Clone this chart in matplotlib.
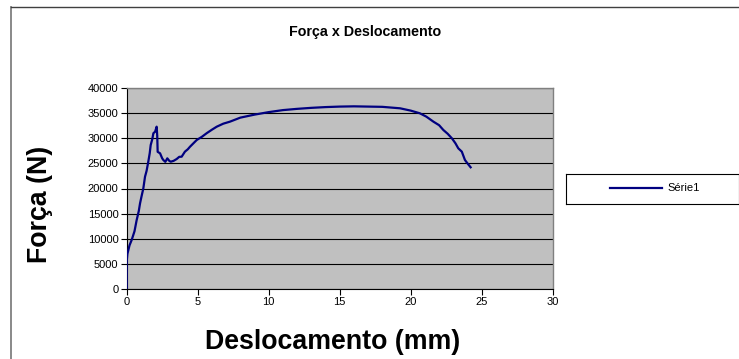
import matplotlib
matplotlib.use("Agg")
import matplotlib.pyplot as plt
from matplotlib.lines import Line2D

plt.rcParams['font.family'] = ['Liberation Sans', 'DejaVu Sans']

# Displacement (mm) and force (N) readings
deslocamento = [0.0, 0.0, 0.05, 0.2, 0.35, 0.55, 0.7, 0.85, 0.94, 1.05, 1.17, 1.29, 1.4,
                1.52, 1.62, 1.69, 1.8, 1.88, 2.0, 2.11, 2.15, 2.18, 2.35, 2.5, 2.58,
                2.72, 2.86, 3.0, 3.1, 3.3, 3.52, 3.7, 3.87, 4.1, 4.3, 4.46, 4.7, 4.93,
                5.3, 5.63, 6.0, 6.34, 6.8, 7.27, 8.0, 9.0, 10.0, 11.0, 12.0, 13.0,
                14.0, 15.0, 16.0, 17.0, 18.0, 19.25, 20.0, 20.65, 21.1, 21.6, 22.0,
                22.3, 22.6, 22.9, 23.15, 23.35, 23.6, 23.82, 24.0, 24.22]
forca = [0, 5500, 7000, 8700, 9750, 11500, 13700, 15500, 17050, 18500, 20000, 22350, 23500,
         25330, 27000, 28650, 29800, 31000, 31300, 32300, 30500, 27300, 27000, 26000, 25670,
         25300, 26000, 25500, 25330, 25500, 25870, 26300, 26330, 27330, 27800, 28320, 29000,
         29650, 30300, 31000, 31700, 32300, 32900, 33300, 34100, 34700, 35200, 35600, 35850,
         36050, 36200, 36300, 36350, 36300, 36250, 35960, 35500, 34960, 34300, 33300, 32600,
         31640, 30900, 29990, 29000, 28000, 27330, 25670, 25000, 24220]

x_ticks = [0, 5, 10, 15, 20, 25, 30]
y_ticks = [0, 5000, 10000, 15000, 20000, 25000, 30000, 35000, 40000]

W, H = 739, 359
fig = plt.figure(figsize=(W / 100, H / 100), dpi=100)
fig.patch.set_facecolor('white')

# outer chart-area frame (top and left edges)
fig.add_artist(Line2D([10.5 / W, 10.5 / W], [0, (H - 6.5) / H], transform=fig.transFigure,
                      color='#808080', lw=1.3))
fig.add_artist(Line2D([10.5 / W, 1], [(H - 6.5) / H, (H - 6.5) / H], transform=fig.transFigure,
                      color='#404040', lw=1.0))

x0, x1 = 126.7, 552.7
y0, y1 = 289.0, 88.0
ax = fig.add_axes([x0 / W, (H - y0) / H, (x1 - x0) / W, (y0 - y1) / H])
ax.set_facecolor('#C0C0C0')

ax.plot(deslocamento, forca, color='#000080', lw=1.6, label='Série1', zorder=3)

ax.set_xlim(0, 30)
ax.set_ylim(0, 40000)
ax.set_xticks(x_ticks)
ax.set_yticks(y_ticks)
ax.set_xticklabels([str(v) for v in x_ticks], fontsize=8)
ax.set_yticklabels([str(v) for v in y_ticks], fontsize=8)
ax.tick_params(axis='both', direction='out', length=4, width=0.8, color='black', pad=2)
ax.grid(axis='y', color='black', lw=0.8)
ax.set_axisbelow(True)
for side in ('top', 'right'):
    ax.spines[side].set_color('#808080')
    ax.spines[side].set_linewidth(1.0)
for side in ('left', 'bottom'):
    ax.spines[side].set_color('black')
    ax.spines[side].set_linewidth(0.8)

fig.text(365 / W, 1 - 32 / H, 'Força x Deslocamento', ha='center', va='center',
         fontsize=10.3, fontweight='bold')
fig.text(332.5 / W, 1 - 342 / H, 'Deslocamento (mm)', ha='center', va='center',
         fontsize=19.3, fontweight='bold')
fig.text(40 / W, 1 - 204.5 / H, 'Força (N)', ha='center', va='center', rotation=90,
         fontsize=19.3, fontweight='bold')

# legend box
lx0, lx1, ly0, ly1 = 565.5, 738.5, 173.5, 203.5
leg_ax = fig.add_axes([lx0 / W, (H - ly1) / H, (lx1 - lx0) / W, (ly1 - ly0) / H])
leg_ax.set_xlim(lx0, lx1)
leg_ax.set_ylim(ly1, ly0)
leg_ax.set_xticks([])
leg_ax.set_yticks([])
for s in leg_ax.spines.values():
    s.set_color('black')
    s.set_linewidth(0.8)
leg_ax.plot([610, 662], [187.5, 187.5], color='#000080', lw=1.6)
leg_ax.text(667, 188, 'Série1', ha='left', va='center', fontsize=8)

fig.savefig('out.png', dpi=100)
